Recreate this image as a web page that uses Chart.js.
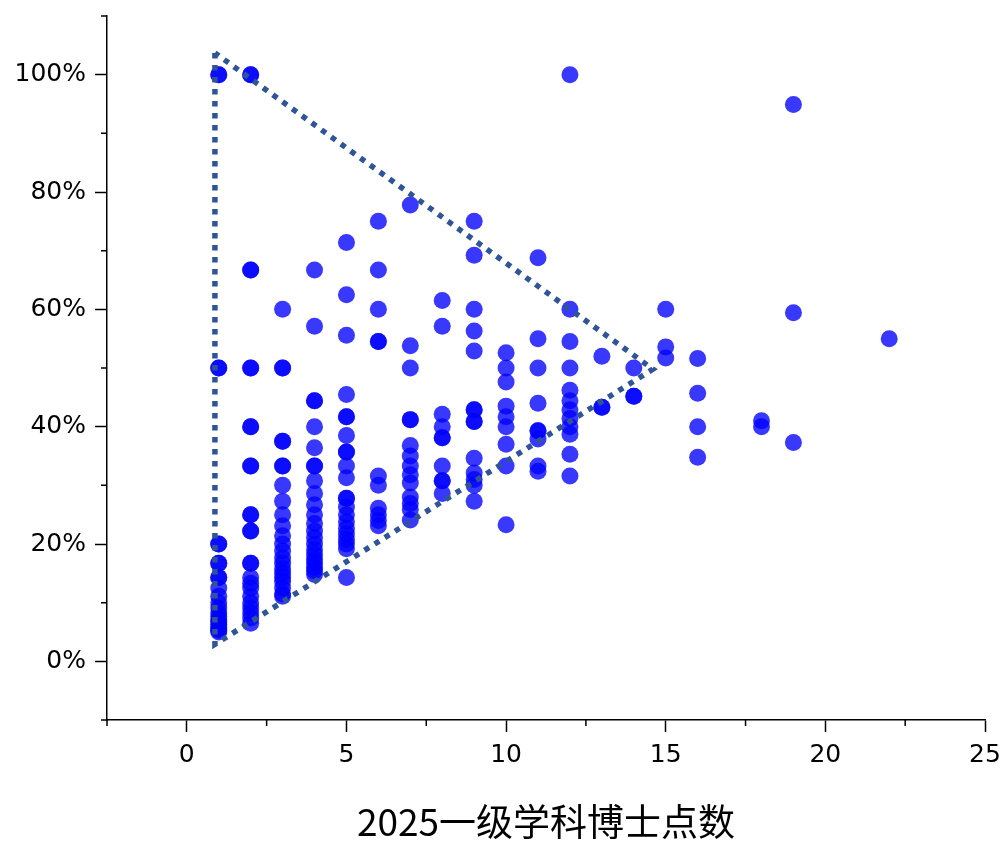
<!DOCTYPE html>
<html>
<head>
<meta charset="utf-8">
<script src="https://cdn.jsdelivr.net/npm/chart.js@4.4.1/dist/chart.umd.min.js"></script>
<style>
  html, body { margin: 0; padding: 0; background: #fff; }
</style>
</head>
<body>
<canvas id="chart" width="1003" height="841"></canvas>
<script>
// number of first-level doctoral programmes (x) and the ratios (%)
const counts = [1, 2, 3, 4, 5, 6, 7, 8, 9, 10, 11, 12, 13, 14, 15, 16, 18, 19, 22];
const rates = [
    [100, 100, 50, 50, 20, 20, 16.7, 16.7, 14.3, 14.3, 12.5, 11.1, 10, 9.1, 8.3, 7.7, 7.1, 6.7, 6.3, 5.9, 5.6, 5.3, 5],
    [100, 100, 66.7, 66.7, 50, 50, 40, 40, 33.3, 33.3, 25, 25, 22.2, 22.2, 16.7, 16.7, 14.3, 13.3, 12.5, 11.1, 10, 9.1, 8.3, 7.4, 6.5],
    [60, 50, 50, 37.5, 37.5, 33.3, 33.3, 30, 27.3, 25, 23.1, 21.4, 20, 18.8, 17.6, 16.7, 15.8, 15, 14.3, 13.6, 12.5, 11.5, 11.1],
    [66.7, 57.1, 44.4, 44.4, 40, 36.4, 33.3, 33.3, 30.8, 28.6, 26.7, 25, 23.5, 22.2, 21.1, 20, 19, 18.2, 17.4, 16.7, 16, 15.4, 14.8],
    [71.4, 62.5, 55.6, 45.5, 41.7, 41.7, 38.5, 35.7, 35.7, 33.3, 31.3, 27.8, 27.8, 26.3, 25, 23.8, 22.7, 21.7, 20.8, 20, 19.2, 14.3],
    [75, 66.7, 60, 54.5, 54.5, 31.6, 30, 26.1, 25, 24, 23.1],
    [77.8, 53.8, 50, 41.2, 41.2, 36.8, 35, 33.3, 31.8, 30.4, 28, 26.9, 25.9, 24.1],
    [61.5, 57.1, 42.1, 40, 38.1, 38.1, 33.3, 30.8, 30.8, 28.6],
    [75, 69.2, 60, 56.3, 52.9, 42.9, 42.9, 40.9, 40.9, 34.6, 32.1, 31, 30, 27.3],
    [52.6, 50, 47.6, 43.5, 41.7, 40, 37, 33.3, 23.3],
    [68.8, 55, 50, 44, 39.3, 39.3, 37.9, 33.3, 32.4],
    [100, 60, 54.5, 50, 46.2, 44.4, 42.9, 41.4, 40, 38.7, 35.3, 31.6],
    [52, 43.3, 43.3],
    [50, 45.2, 45.2],
    [60, 53.6, 51.7],
    [51.6, 45.7, 40, 34.8],
    [41, 40],
    [94.9, 59.4, 37.3],
    [55]
];

// dotted guide triangle (data units)
const guideX = [0.88, 0.88, 14.6, 0.88];
const guideY = [103.7, 2.9, 49.8, 103.7];

const xTicks = [0, 5, 10, 15, 20, 25];
const xMinorTicks = [-2.5, 2.5, 7.5, 12.5, 17.5, 22.5];
const yTicks = [0, 20, 40, 60, 80, 100];
const yMinorTicks = [-10, 10, 30, 50, 70, 90, 110];

const points = counts.flatMap((c, i) => rates[i].map(r => ({ x: c, y: r })));
const guide = guideX.map((gx, i) => ({ x: gx, y: guideY[i] }));

const tickFont = { family: 'DejaVu Sans', size: 25 };

// shorter unlabeled ticks between the labeled ones
const minorTicks = {
    id: 'minorTicks',
    afterDraw(chart) {
        const { ctx, scales: { x, y } } = chart;
        ctx.save();
        ctx.strokeStyle = '#000';
        ctx.lineWidth = 1.5;
        ctx.beginPath();
        yMinorTicks.forEach(v => {
            const py = y.getPixelForValue(v);
            ctx.moveTo(y.right - 6, py);
            ctx.lineTo(y.right, py);
        });
        xMinorTicks.forEach(v => {
            const px = x.getPixelForValue(v);
            ctx.moveTo(px, x.top);
            ctx.lineTo(px, x.top + 6);
        });
        ctx.stroke();
        ctx.restore();
    }
};

new Chart(document.getElementById('chart'), {
    type: 'scatter',
    data: {
        datasets: [
            {
                data: guide,
                showLine: true,
                borderColor: '#2F5597',
                borderWidth: 5.5,
                borderDash: [5.5, 6.5],
                borderCapStyle: 'butt',
                pointRadius: 0,
                fill: false,
                order: 0
            },
            {
                data: points,
                backgroundColor: 'rgba(0, 0, 255, 0.78)',
                borderWidth: 0,
                pointRadius: 8.5,
                order: 1
            }
        ]
    },
    options: {
        responsive: false,
        animation: false,
        devicePixelRatio: 1,
        layout: { padding: { top: 16, right: 18, left: 0, bottom: 0 } },
        plugins: {
            legend: { display: false },
            tooltip: { enabled: false }
        },
        scales: {
            x: {
                type: 'linear',
                min: -2.5,
                max: 25,
                afterBuildTicks: s => { s.ticks = xTicks.map(v => ({ value: v })); },
                afterFit: s => { s.height = 121; s.paddingLeft = 0; s.paddingRight = 0; },
                grid: { drawOnChartArea: false, tickLength: 12, tickColor: '#000', tickWidth: 1.5 },
                border: { display: true, color: '#000', width: 1.5 },
                ticks: { color: '#000', font: tickFont, padding: 8, maxRotation: 0, autoSkip: false },
                title: {
                    display: true,
                    text: '2025一级学科博士点数',
                    color: '#000',
                    font: { family: 'Noto Sans CJK SC', size: 37, lineHeight: 1 },
                    padding: { top: 0, bottom: 1 }
                }
            },
            y: {
                type: 'linear',
                min: -10,
                max: 110,
                afterBuildTicks: s => { s.ticks = yTicks.map(v => ({ value: v })); },
                afterFit: s => { s.width = 107; s.paddingTop = 0; s.paddingBottom = 0; },
                grid: { drawOnChartArea: false, tickLength: 12, tickColor: '#000', tickWidth: 1.5 },
                border: { display: true, color: '#000', width: 1.5 },
                ticks: { color: '#000', font: tickFont, padding: 9, callback: v => v + '%' }
            }
        }
    },
    plugins: [minorTicks]
});
</script>
</body>
</html>
